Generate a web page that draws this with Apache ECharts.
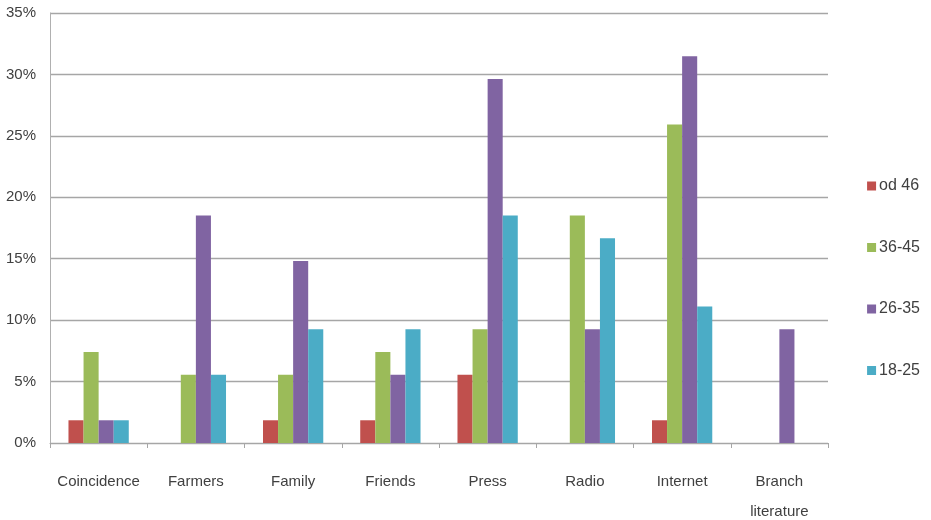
<!DOCTYPE html>
<html><head><meta charset="utf-8">
<script src="https://cdn.jsdelivr.net/npm/echarts@6/dist/echarts.min.js"></script>
<style>html,body{margin:0;padding:0;background:#fff}#c{width:931px;height:520px}</style>
</head><body><div id="c"></div>
<script>
const categories = ['Coincidence','Farmers','Family','Friends','Press','Radio','Internet','Branch\nliterature'];
const seriesNames = ['od 46','36-45','26-35','18-25'];
const od46 = [1.85, 0, 1.85, 1.85, 5.56, 0, 1.85, 0];
const age3645 = [7.41, 5.56, 5.56, 7.41, 9.26, 18.52, 25.93, 0];
const age2635 = [1.85, 18.52, 14.81, 5.56, 29.63, 9.26, 31.48, 9.26];
const age1825 = [1.85, 5.56, 9.26, 9.26, 18.52, 16.67, 11.11, 0];
const yTicks = [0,5,10,15,20,25,30,35];
const colors = ['#C0504D','#9BBB59','#8064A2','#4BACC6'];
const values = [od46, age3645, age2635, age1825];

const font = '"Liberation Sans Narrow","Liberation Sans",sans-serif';
const chart = echarts.init(document.getElementById('c'));
chart.setOption({
  animation:false,
  color:colors,
  grid:{left:50,right:103,top:13,bottom:77,containLabel:false,outerBoundsMode:'none'},
  legend:{
    orient:'vertical', right:6, top:173, itemGap:45.5,
    itemWidth:9, itemHeight:9, icon:'rect',
    textStyle:{fontFamily:font,fontSize:16,color:'#404040',padding:[0,0,0,-2]},
    data:seriesNames
  },
  xAxis:{
    type:'category', data:categories,
    axisLine:{lineStyle:{color:'#a6a6a6',width:1}},
    axisTick:{show:true,length:5,lineStyle:{color:'#a6a6a6'}},
    axisLabel:{interval:0,fontFamily:font,fontSize:15,color:'#404040',margin:24,lineHeight:30}
  },
  yAxis:{
    type:'value', min:yTicks[0], max:yTicks[yTicks.length-1], interval:5,
    axisLine:{show:true,lineStyle:{color:'#b0b0b0'}},
    axisTick:{show:false},
    splitLine:{lineStyle:{color:'#a6a6a6',width:1.3}},
    axisLabel:{fontFamily:font,fontSize:15,color:'#404040',margin:14,formatter:v=>v+'%'}
  },
  series: seriesNames.map((n,i)=>({
    name:n, type:'bar', data:values[i], barGap:'0%', barCategoryGap:'38%'
  }))
});
</script></body></html>
